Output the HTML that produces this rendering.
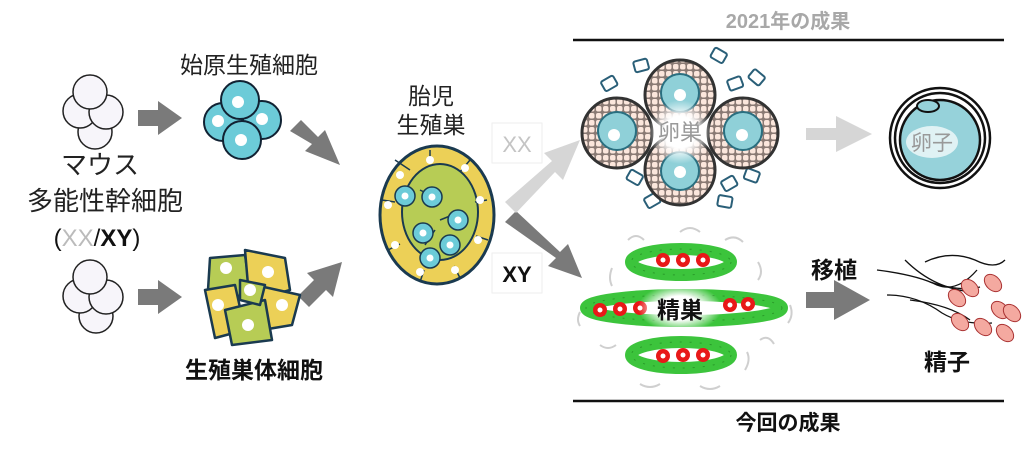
<!DOCTYPE html>
<html><head><meta charset="utf-8"><style>
html,body{margin:0;padding:0;background:#fff;}
svg{display:block;}
text{font-family:"Liberation Sans","Noto Sans CJK JP",sans-serif;}
</style></head><body>
<svg width="1024" height="452" viewBox="0 0 1024 452" xmlns="http://www.w3.org/2000/svg">
<defs>
<radialGradient id="glow"><stop offset="0.5" stop-color="#fff" stop-opacity="1"/><stop offset="1" stop-color="#fff" stop-opacity="0"/></radialGradient>
<pattern id="dots" width="7" height="7" patternUnits="userSpaceOnUse"><rect width="7" height="7" fill="#8a7a74"/><rect x="1" y="1" width="5.5" height="5.5" rx="2" fill="#fbe6dc"/></pattern>
</defs>

<text x="788" y="28" font-size="20" font-weight="bold" fill="#a8a8a8" text-anchor="middle">2021年の成果</text>
<line x1="573" y1="40" x2="1004" y2="40" stroke="#111" stroke-width="2.5"/>
<line x1="573" y1="401" x2="1004" y2="401" stroke="#111" stroke-width="2.5"/>
<text x="788" y="430" font-size="21" font-weight="bold" fill="#111" text-anchor="middle">今回の成果</text>

<text x="249" y="73" font-size="23" fill="#222" text-anchor="middle">始原生殖細胞</text>
<text x="100" y="174" font-size="26" fill="#222" text-anchor="middle">マウス</text>
<text x="105" y="210" font-size="26" fill="#222" text-anchor="middle">多能性幹細胞</text>
<text x="97" y="246" font-size="24" fill="#111" text-anchor="middle">(<tspan fill="#bbb">XX</tspan>/<tspan font-weight="bold">XY</tspan>)</text>
<text x="431" y="104" font-size="23" fill="#222" text-anchor="middle">胎児</text>
<text x="431" y="133" font-size="23" fill="#222" text-anchor="middle">生殖巣</text>
<text x="254" y="378" font-size="23" font-weight="bold" fill="#111" text-anchor="middle">生殖巣体細胞</text>

<g fill="#f7f5fa" stroke="#222" stroke-width="1.5">
<circle cx="95" cy="132" r="17"/><circle cx="80" cy="111" r="17"/><circle cx="106" cy="112" r="17"/><circle cx="90" cy="92" r="17"/>
<circle cx="96" cy="316" r="17"/><circle cx="80" cy="296" r="17"/><circle cx="106" cy="297" r="17"/><circle cx="90" cy="277" r="17"/>
</g>

<g fill="#7a7a7a">
<polygon points="138,110 158,110 158,101 182,118 158,135 158,126 138,126"/>
<polygon points="138,289 158,289 158,280 182,297 158,314 158,305 138,305"/>
<polygon points="290,131 301,120 318,137 325,130 340,165 305,151 312,144"/>
<polygon points="298,296 309,307 326,290 333,297 342,262 307,273 314,280"/>
<polygon points="505,222 516,211 560,252 568,244 582,278 548,266 556,258"/>
<polygon points="806,292 834,292 834,280 870,300 834,320 834,308 806,308"/>
</g>
<g fill="#d6d6d6">
<polygon points="505,202 516,213 555,172 563,180 580,140 544,153 552,161"/>
<polygon points="806,128 836,128 836,116 872,134 836,152 836,140 806,140"/>
</g>

<rect x="492" y="123" width="50" height="40" fill="#fff" stroke="#eee"/>
<text x="517" y="152" font-size="22" fill="#c4c4c4" text-anchor="middle">XX</text>
<rect x="492" y="253" width="50" height="40" fill="#fff" stroke="#eee"/>
<text x="517" y="282" font-size="22" font-weight="bold" fill="#111" text-anchor="middle">XY</text>

<g fill="#6ccbd8" stroke="#123" stroke-width="2">
<circle cx="223" cy="122" r="19"/><circle cx="262" cy="120" r="19"/><circle cx="240" cy="100" r="19"/><circle cx="242" cy="140" r="19"/>
</g>
<g fill="#fff"><circle cx="218" cy="121" r="6"/><circle cx="262" cy="119" r="6"/><circle cx="238" cy="102" r="6"/><circle cx="241" cy="140" r="6"/></g>

<g stroke="#1a3a50" stroke-width="2.5" stroke-linejoin="round">
<polygon points="210,258 245,255 250,290 222,305 208,290" fill="#b7cc55"/>
<polygon points="245,250 285,258 290,290 255,300 248,285" fill="#ecd057"/>
<polygon points="205,290 235,285 245,330 215,338" fill="#ecd057"/>
<polygon points="255,285 300,295 292,325 262,330" fill="#ecd057"/>
<polygon points="225,310 265,300 272,340 232,345" fill="#b7cc55"/>
<polygon points="240,280 265,285 260,305 240,300" fill="#b7cc55"/>
</g>
<g fill="#fff"><circle cx="226" cy="268" r="6"/><circle cx="268" cy="272" r="6"/><circle cx="218" cy="305" r="6"/><circle cx="282" cy="305" r="6"/><circle cx="248" cy="325" r="6"/><circle cx="250" cy="290" r="6"/></g>

<ellipse cx="437" cy="215" rx="57" ry="69" fill="#ecd057" stroke="#1a3a50" stroke-width="3"/>
<ellipse cx="440" cy="212" rx="38" ry="48" fill="#b7cc55" stroke="#1a3a50" stroke-width="2"/>
<g fill="none" stroke="#1a3a50" stroke-width="1.5">
<path d="M395 160 l15 10 M430 150 l0 12 M470 160 l-10 12 M487 200 l-12 2 M488 240 l-12 -4 M460 278 l-6 -12 M420 282 l4 -12 M388 250 l12 -6 M382 200 l13 2"/>
<path d="M420 190 l20 10 M440 220 l20 -8 M425 245 l10 -15"/>
</g>
<g fill="#fff">
<circle cx="400" cy="175" r="4"/><circle cx="430" cy="160" r="4"/><circle cx="465" cy="168" r="4"/><circle cx="480" cy="200" r="4"/><circle cx="478" cy="240" r="4"/><circle cx="455" cy="270" r="4"/><circle cx="420" cy="272" r="4"/><circle cx="395" cy="245" r="4"/><circle cx="388" cy="205" r="4"/>
</g>
<g fill="#6ccbd8" stroke="#1a3a50" stroke-width="1.5">
<circle cx="405" cy="196" r="10"/><circle cx="432" cy="197" r="10"/><circle cx="458" cy="220" r="10"/><circle cx="423" cy="233" r="10"/><circle cx="450" cy="245" r="10"/><circle cx="430" cy="258" r="10"/>
</g>
<g fill="#fff"><circle cx="405" cy="196" r="3.5"/><circle cx="432" cy="197" r="3.5"/><circle cx="458" cy="220" r="3.5"/><circle cx="423" cy="233" r="3.5"/><circle cx="450" cy="245" r="3.5"/><circle cx="430" cy="258" r="3.5"/></g>

<g fill="#fff" stroke="#2a5f78" stroke-width="2">
<rect x="602" y="78" width="14" height="11" rx="2" transform="rotate(-30 609 83)"/>
<rect x="634" y="60" width="14" height="11" rx="2" transform="rotate(-15 641 65)"/>
<rect x="712" y="50" width="14" height="11" rx="2" transform="rotate(30 719 55)"/>
<rect x="728" y="78" width="14" height="11" rx="2" transform="rotate(-20 735 83)"/>
<rect x="750" y="72" width="14" height="11" rx="2" transform="rotate(40 757 77)"/>
<rect x="628" y="172" width="14" height="11" rx="2" transform="rotate(30 635 177)"/>
<rect x="645" y="195" width="14" height="11" rx="2" transform="rotate(-30 652 200)"/>
<rect x="722" y="178" width="14" height="11" rx="2" transform="rotate(-30 729 183)"/>
<rect x="745" y="170" width="14" height="11" rx="2" transform="rotate(20 752 175)"/>
<rect x="718" y="196" width="14" height="11" rx="2" transform="rotate(10 725 201)"/>
</g>
<g stroke="#333" stroke-width="3" fill="url(#dots)">
<circle cx="680" cy="95" r="35"/><circle cx="617" cy="133" r="35"/><circle cx="743" cy="133" r="35"/><circle cx="680" cy="170" r="35"/>
</g>
<g fill="#8fd0d8" stroke="#2a6f80" stroke-width="2">
<circle cx="680" cy="93" r="19"/><circle cx="617" cy="131" r="19"/><circle cx="743" cy="131" r="19"/><circle cx="680" cy="171" r="19"/>
</g>
<g fill="#fff"><circle cx="680" cy="95" r="6"/><circle cx="614" cy="135" r="6"/><circle cx="742" cy="135" r="6"/><circle cx="680" cy="172" r="6"/></g>
<circle cx="680" cy="132" r="32" fill="url(#glow)"/>
<text x="680" y="140" font-size="22" fill="#999" text-anchor="middle">卵巣</text>

<circle cx="940" cy="138" r="50" fill="#fff" stroke="#111" stroke-width="2.5"/>
<circle cx="940" cy="138" r="45" fill="#fff" stroke="#111" stroke-width="2.5"/>
<circle cx="940" cy="140" r="40" fill="#96d2da" stroke="#111" stroke-width="2.5"/>
<ellipse cx="928" cy="106" rx="11" ry="6" fill="#96d2da" stroke="#111" stroke-width="2"/>
<ellipse cx="932" cy="142" rx="26" ry="16" fill="#fff" opacity="0.7"/>
<text x="932" y="150" font-size="21" fill="#999" text-anchor="middle">卵子</text>

<g fill="none" stroke="#cfcfcf" stroke-width="2">
<path d="M628 240 q8 -8 16 0"/><path d="M680 232 q10 -8 20 0"/><path d="M725 240 q10 -6 18 2"/>
<path d="M612 268 q-4 10 0 18"/><path d="M758 262 q6 10 0 18"/><path d="M580 312 q-4 8 0 14"/>
<path d="M790 305 q4 10 -2 18"/><path d="M600 345 q8 6 16 0"/><path d="M760 340 q8 -6 14 4"/>
<path d="M640 384 q10 6 20 0"/><path d="M700 386 q10 6 20 0"/><path d="M745 370 q6 -10 2 -18"/>
</g>
<g fill="#fff" stroke="#3cc43c" stroke-width="12">
<ellipse cx="681" cy="262" rx="50" ry="13"/>
<ellipse cx="684" cy="308" rx="98" ry="13"/>
<ellipse cx="681" cy="355" rx="50" ry="13"/>
</g>
<g fill="none" stroke="#2a9a2a" stroke-width="1" stroke-dasharray="2 8">
<ellipse cx="681" cy="262" rx="50" ry="13"/>
<ellipse cx="684" cy="308" rx="98" ry="13"/>
<ellipse cx="681" cy="355" rx="50" ry="13"/>
</g>
<g fill="#e81818">
<circle cx="663" cy="260" r="7"/><circle cx="683" cy="260" r="7"/><circle cx="703" cy="260" r="7"/>
<circle cx="600" cy="310" r="7"/><circle cx="620" cy="309" r="7"/><circle cx="640" cy="308" r="7"/><circle cx="730" cy="305" r="7"/><circle cx="748" cy="304" r="7"/>
<circle cx="663" cy="356" r="7"/><circle cx="683" cy="355" r="7"/><circle cx="703" cy="355" r="7"/>
</g>
<g fill="#fff">
<circle cx="663" cy="260" r="2.5"/><circle cx="683" cy="260" r="2.5"/><circle cx="703" cy="260" r="2.5"/>
<circle cx="600" cy="310" r="2.5"/><circle cx="620" cy="309" r="2.5"/><circle cx="640" cy="308" r="2.5"/><circle cx="730" cy="305" r="2.5"/><circle cx="748" cy="304" r="2.5"/>
<circle cx="663" cy="356" r="2.5"/><circle cx="683" cy="355" r="2.5"/><circle cx="703" cy="355" r="2.5"/>
</g>
<ellipse cx="680" cy="308" rx="42" ry="24" fill="url(#glow)"/>
<text x="680" y="318" font-size="23" font-weight="bold" fill="#111" text-anchor="middle">精巣</text>

<text x="834" y="278" font-size="23" font-weight="bold" fill="#111" text-anchor="middle">移植</text>

<g fill="none" stroke="#111" stroke-width="1.3">
<path d="M877 270 q40 5 60 15 q20 8 40 -15"/>
<path d="M905 260 q30 30 70 32"/>
<path d="M925 262 q25 -12 50 -2 q20 10 30 0"/>
<path d="M887 295 q30 0 55 18 q20 12 50 10"/>
<path d="M930 282 q30 10 50 5"/>
<path d="M910 300 q40 5 60 20"/>
</g>
<g fill="#f4a9a0" stroke="#a33" stroke-width="1">
<ellipse cx="993" cy="283" rx="10" ry="7" transform="rotate(45 993 283)"/>
<ellipse cx="970" cy="288" rx="10" ry="7" transform="rotate(45 970 288)"/>
<ellipse cx="957" cy="298" rx="10" ry="7" transform="rotate(45 957 298)"/>
<ellipse cx="1000" cy="310" rx="10" ry="7" transform="rotate(45 1000 310)"/>
<ellipse cx="1012" cy="313" rx="10" ry="7" transform="rotate(45 1012 313)"/>
<ellipse cx="960" cy="322" rx="10" ry="7" transform="rotate(45 960 322)"/>
<ellipse cx="983" cy="327" rx="10" ry="7" transform="rotate(45 983 327)"/>
<ellipse cx="1005" cy="333" rx="10" ry="7" transform="rotate(45 1005 333)"/>
</g>
<text x="947" y="370" font-size="23" font-weight="bold" fill="#111" text-anchor="middle">精子</text>
</svg>
</body></html>
